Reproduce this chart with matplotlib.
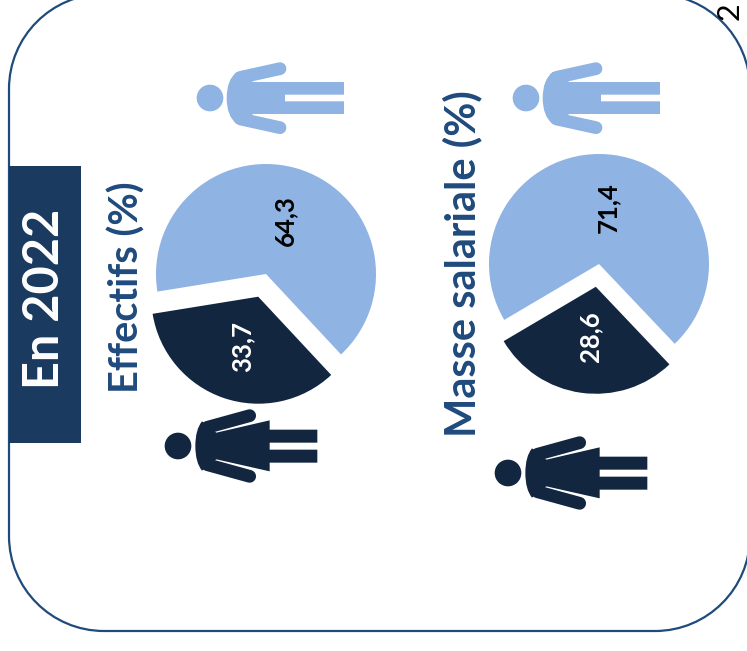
import matplotlib
matplotlib.use("Agg")
import matplotlib.pyplot as plt
from matplotlib.patches import Circle, PathPatch, Rectangle
from matplotlib.path import Path

W, H = 747, 651
NAVY = "#12263f"
LIGHT = "#8fb3e3"
BLUE = "#1f4a7c"
BAND = "#1a3a60"

effectifs = [64.3, 33.7]
masse_salariale = [71.4, 28.6]

plt.rcParams["font.family"] = ["Lato", "DejaVu Sans"]

fig = plt.figure(figsize=(W / 100, H / 100), dpi=100)
ax = fig.add_axes([0, 0, 1, 1])


def Y(y):
    # picture rows go down, the axes go up
    return H - y


def rounded_box(x0, y0, x1, y1, r):
    k = 0.5523 * r
    verts = [
        (x0 + r, y0), (x1 - r, y0),
        (x1 - r + k, y0), (x1, y0 + r - k), (x1, y0 + r),
        (x1, y1 - r),
        (x1, y1 - r + k), (x1 - r + k, y1), (x1 - r, y1),
        (x0 + r, y1),
        (x0 + r - k, y1), (x0, y1 - r + k), (x0, y1 - r),
        (x0, y0 + r),
        (x0, y0 + r - k), (x0 + r - k, y0), (x0 + r, y0),
    ]
    codes = [Path.MOVETO, Path.LINETO] + [Path.CURVE4] * 3 + [Path.LINETO] + [Path.CURVE4] * 3 \
        + [Path.LINETO] + [Path.CURVE4] * 3 + [Path.LINETO] + [Path.CURVE4] * 3
    return Path([(x, Y(y)) for x, y in verts], codes)


def draw_pie(values, center, explode, start):
    # explode is in data units here because the axes are in pixels
    wedges, _ = ax.pie(values, colors=[LIGHT, NAVY], startangle=start, radius=110,
                       center=(center[0], Y(center[1])), explode=[0, explode], frame=True,
                       wedgeprops={"linewidth": 0})
    wedges[1].set_radius(107)


def person(hx, hy, color, skirt):
    # outlines are in units of 1/3 px, relative to the centre of the head
    def pt(x, y):
        return hx + x / 3, Y(hy + y / 3)

    ax.add_patch(Circle(pt(0, 0), 40 / 3, fc=color, ec="none"))
    if skirt:
        body = [(72, -74), (52, -50), (52, 0), (52, 50), (72, 74), (115, 40), (275, 76), (275, 50),
                (418, 50), (418, 11), (275, 11), (275, -10), (418, -10), (418, -49), (275, -49),
                (275, -77), (115, -40)]
        arms = [((88, -56), (215, -91)), ((88, 56), (215, 91))]
    else:
        body = [(80, -78), (50, -55), (50, 0), (50, 55), (80, 78), (130, 48), (402, 48), (402, 10),
                (225, 10), (225, -10), (402, -10), (402, -48), (130, -48)]
        arms = [((92, -62), (210, -88)), ((92, 63), (210, 89))]
    codes = [Path.MOVETO, Path.CURVE3, Path.CURVE3, Path.CURVE3, Path.CURVE3] + [Path.LINETO] * (len(body) - 5)
    verts = [pt(x, y) for x, y in body] + [pt(*body[0])]
    ax.add_patch(PathPatch(Path(verts, codes + [Path.CLOSEPOLY]), fc=color, ec="none"))
    for a, b in arms:
        xs, ys = zip(pt(*a), pt(*b))
        ax.plot(xs, ys, color=color, lw=9.2, solid_capstyle="round")


# white fill so agg does not clip the curve's control points at the figure edge
ax.add_patch(PathPatch(rounded_box(9, -6, 750, 631, 95), fc="white", ec=BLUE, lw=1.6, zorder=0))
ax.add_patch(Rectangle((9, Y(443)), 72, 277, fc=BAND, ec="none"))

draw_pie(effectifs, (266, 274), 24, -47)
draw_pie(masse_salariale, (599, 264), 23, -46.5)

person(210, 98, LIGHT, False)
person(526, 98, LIGHT, False)
person(178, 446, NAVY, True)
person(508, 473, NAVY, True)

ax.text(45, Y(299), "En 2022", color="white", fontsize=35, fontweight="bold", rotation=90,
        ha="center", va="center")
ax.text(127, Y(287), "Effectifs (%)", color=BLUE, fontsize=28.5, fontweight="bold", rotation=90,
        ha="center", va="center")
ax.text(462, Y(263.5), "Masse salariale (%)", color=BLUE, fontsize=30, fontweight="bold", rotation=90,
        ha="center", va="center")

value_spots = [(285, 221), (242, 346.5), (608, 207.5), (590, 337)]
value_colors = ["black", "white", "black", "white"]
for v, (x, y), c in zip(effectifs + masse_salariale, value_spots, value_colors):
    ax.text(x, Y(y), f"{v}".replace(".", ","), color=c, fontsize=18.5, fontweight="bold",
            rotation=90, ha="center", va="center")

ax.text(730, Y(20), "2", color="black", fontsize=22, rotation=90, ha="center", va="bottom", clip_on=True)

ax.set_xlim(0, W)
ax.set_ylim(0, H)
ax.set_aspect("auto")
ax.axis("off")

fig.savefig("out.png", dpi=100)
